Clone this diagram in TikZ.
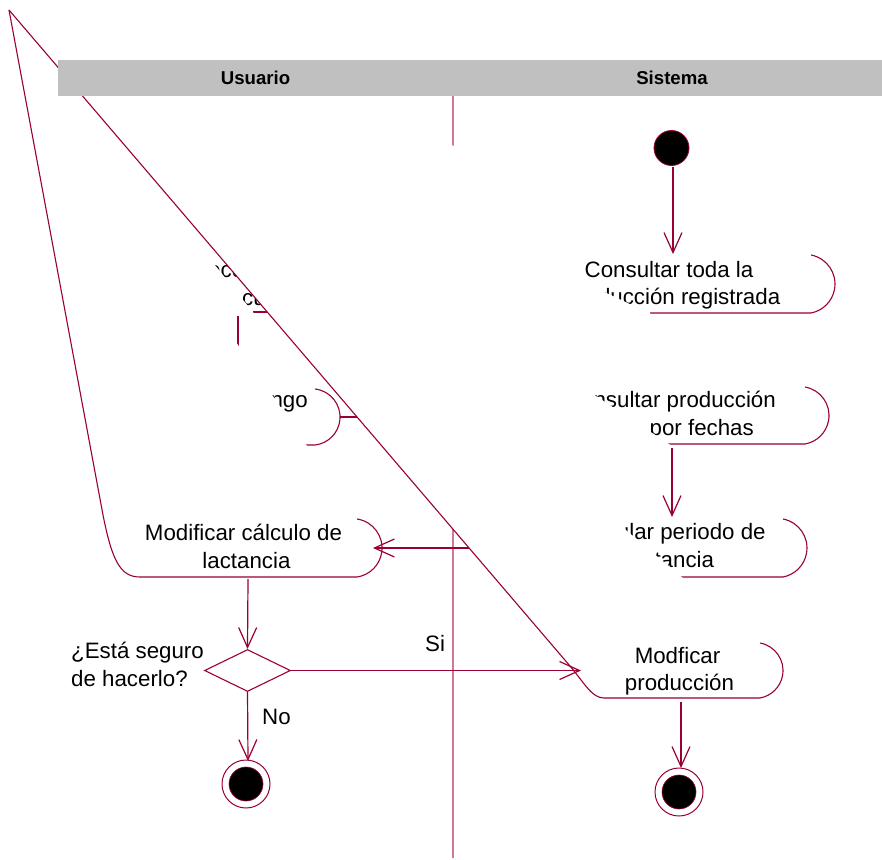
\documentclass[tikz,border=0pt]{standalone}
\usepackage{fontspec}
\setmainfont{Liberation Sans}
\usetikzlibrary{arrows.meta,shapes.geometric}
\definecolor{rose}{RGB}{153,0,51}
\definecolor{lanec}{RGB}{208,120,155}
\definecolor{hdr}{RGB}{192,192,192}
\begin{document}
\begin{tikzpicture}[x=1pt,y=-1pt,
  shp/.style={draw=rose, line width=1.1pt},
  cn/.style={draw=rose, line width=1.2pt},
  arr/.style={cn, -{Straight Barb[length=20pt,width=18pt]}},
  hide/.style={fill=white, draw=none},
  lbl/.style={font=\fontsize{22.3}{27}\selectfont, inner sep=0pt, text=black},
  hd/.style={font=\bfseries\fontsize{18.6}{22}\selectfont, inner sep=0pt, text=black},
]
\useasboundingbox (0,0) rectangle (882,859);
\coordinate (apex) at (9,10);

% lane divider (visible parts)
\coordinate (laneTop) at (453,96);
\coordinate (laneTopEnd) at (453,146);
\coordinate (laneMid) at (453,527);
\coordinate (laneBot) at (453,858);
\draw[draw=lanec, line width=1.4pt] (laneTop) -- (laneTopEnd);
\draw[draw=lanec, line width=1.4pt] (laneMid) -- (laneBot);

% Sistema activity 1
\fill[hide] (apex) -- (811,255) arc[start angle=-79.2,end angle=79.2,radius=29.52] -- (650,313) -- cycle;
\draw[shp] (811,255) arc[start angle=-79.2,end angle=79.2,radius=29.52] -- (650,313);
\node[lbl, anchor=base] (s1a) at (669,277) {Consultar toda la};
\node[lbl, anchor=base] (s1b) at (673,304) {producción registrada};

% Sistema activity 2
\fill[hide] (apex) -- (805,387) arc[start angle=-80.2,end angle=80.2,radius=28.92] -- (668,444) -- cycle;
\draw[shp] (805,387) arc[start angle=-80.2,end angle=80.2,radius=28.92] -- (668,444);
\node[lbl, anchor=base east] (s2a) at (776,407) {Consultar producción};
\node[lbl, anchor=base east] (s2b) at (754,435) {por fechas};

% Sistema activity 3
\fill[hide] (apex) -- (783,519) arc[start angle=-79.2,end angle=79.2,radius=29.52] -- (680,577) -- cycle;
\draw[shp] (783,519) arc[start angle=-79.2,end angle=79.2,radius=29.52] -- (680,577);
\node[lbl, anchor=base] (s3a) at (669,539) {Calcular periodo de};
\node[lbl, anchor=base] (s3b) at (670,567) {lactancia};

% Usuario activity A (fragments)
\node[lbl, anchor=base west] (ua) at (208,277) {ecc};
\node[lbl, anchor=base west] (ub) at (242,305) {cu};
\coordinate (uaB1) at (253,312);
\coordinate (uaB2) at (275,312);
\draw[shp] (uaB1) -- (uaB2);

% Usuario activity B
\fill[hide] (apex) -- (315,389) arc[start angle=-83.6,end angle=83.6,radius=28.18] -- (200,445) -- cycle;
\draw[shp] (315,389) arc[start angle=-83.6,end angle=83.6,radius=28.18] -- (306,445);
\node[lbl, anchor=base east] (ubt) at (308,407) {rango};
\coordinate (abTop) at (238,316);
\coordinate (abBot) at (238,370);
\draw[cn] (abTop) -- (abBot);
\coordinate (bsA) at (340,417);
\coordinate (bsB) at (375,417);
\draw[cn] (bsA) -- (bsB);

% Modificar calculo de lactancia
\fill[hide] (apex) -- (357,519) arc[start angle=-81.6,end angle=81.6,radius=29.32] -- (140,577) .. controls (120,577) and (112,560) .. (103,515) -- cycle;
\draw[shp] (357,519) arc[start angle=-81.6,end angle=81.6,radius=29.32] -- (140,577) .. controls (120,577) and (112,560) .. (103,515) -- (apex);
\node[lbl, anchor=base] (mc1) at (243.5,540) {Modificar cálculo de};
\node[lbl, anchor=base] (mc2) at (246.5,568) {lactancia};

% S3 -> Modificar calculo
\coordinate (s3L) at (490,548);
\coordinate (mcR) at (373,548);
\draw[arr] (s3L) -- (mcR);

% Modficar produccion
\coordinate (dk) at (570,666);
\fill[hide] (apex) -- (760,643) arc[start angle=-79.8,end angle=79.8,radius=27.94] -- (604,698) .. controls (592,698) and (585,684) .. (dk) -- cycle;
\draw[shp] (760,643) arc[start angle=-79.8,end angle=79.8,radius=27.94] -- (604,698) .. controls (592,698) and (585,684) .. (dk) -- (apex);
\node[lbl, anchor=base] (mp1) at (677.5,663) {Modficar};
\node[lbl, anchor=base] (mp2) at (679.5,690) {producción};

% start
\node[circle, fill=black, draw=rose, line width=0.8pt, minimum size=35pt, inner sep=0pt] (start) at (671.5,148) {};
\coordinate (stA) at (673,167);
\coordinate (stB) at (673,254);
\draw[arr] (stA) -- (stB);

% S2 -> S3
\coordinate (s23A) at (672,448);
\coordinate (s23B) at (672,517);
\draw[arr] (s23A) -- (s23B);

% decision
\node[diamond, draw=rose, line width=1.1pt, minimum width=86pt, minimum height=42pt, inner sep=0pt] (dec) at (247.5,670.5) {};
\coordinate (mcB) at (248,579);
\draw[arr] (mcB) -- (dec.north);
\coordinate (mpL) at (581,670.5);
\draw[arr] (dec.east) -- (mpL);
\coordinate (e1T) at (248,761);
\draw[arr] (dec.south) -- (e1T);
\node[lbl, anchor=base west] (q1) at (71,658) {¿Está seguro};
\node[lbl, anchor=base west] (q2) at (71,686) {de hacerlo?};
\node[lbl, anchor=base west] (si) at (425,651) {Si};
\node[lbl, anchor=base west] (no) at (262,724) {No};

% end states
\node[circle, draw=rose, line width=1pt, minimum size=48pt, inner sep=0pt] (end1) at (246,784) {};
\node[circle, fill=black, draw=rose, line width=0.6pt, minimum size=34pt, inner sep=0pt] (end1i) at (246,784) {};
\node[circle, draw=rose, line width=1pt, minimum size=48pt, inner sep=0pt] (end2) at (679,792) {};
\node[circle, fill=black, draw=rose, line width=0.6pt, minimum size=34pt, inner sep=0pt] (end2i) at (679,792) {};
\coordinate (mpB) at (681,702);
\coordinate (e2T) at (681,768);
\draw[arr] (mpB) -- (e2T);

% header
\fill[hdr] (58,60) rectangle (882,96);
\node[hd, anchor=base] (hu) at (255.5,84) {Usuario};
\node[hd, anchor=base] (hs) at (672,84) {Sistema};
\end{tikzpicture}
\end{document}
